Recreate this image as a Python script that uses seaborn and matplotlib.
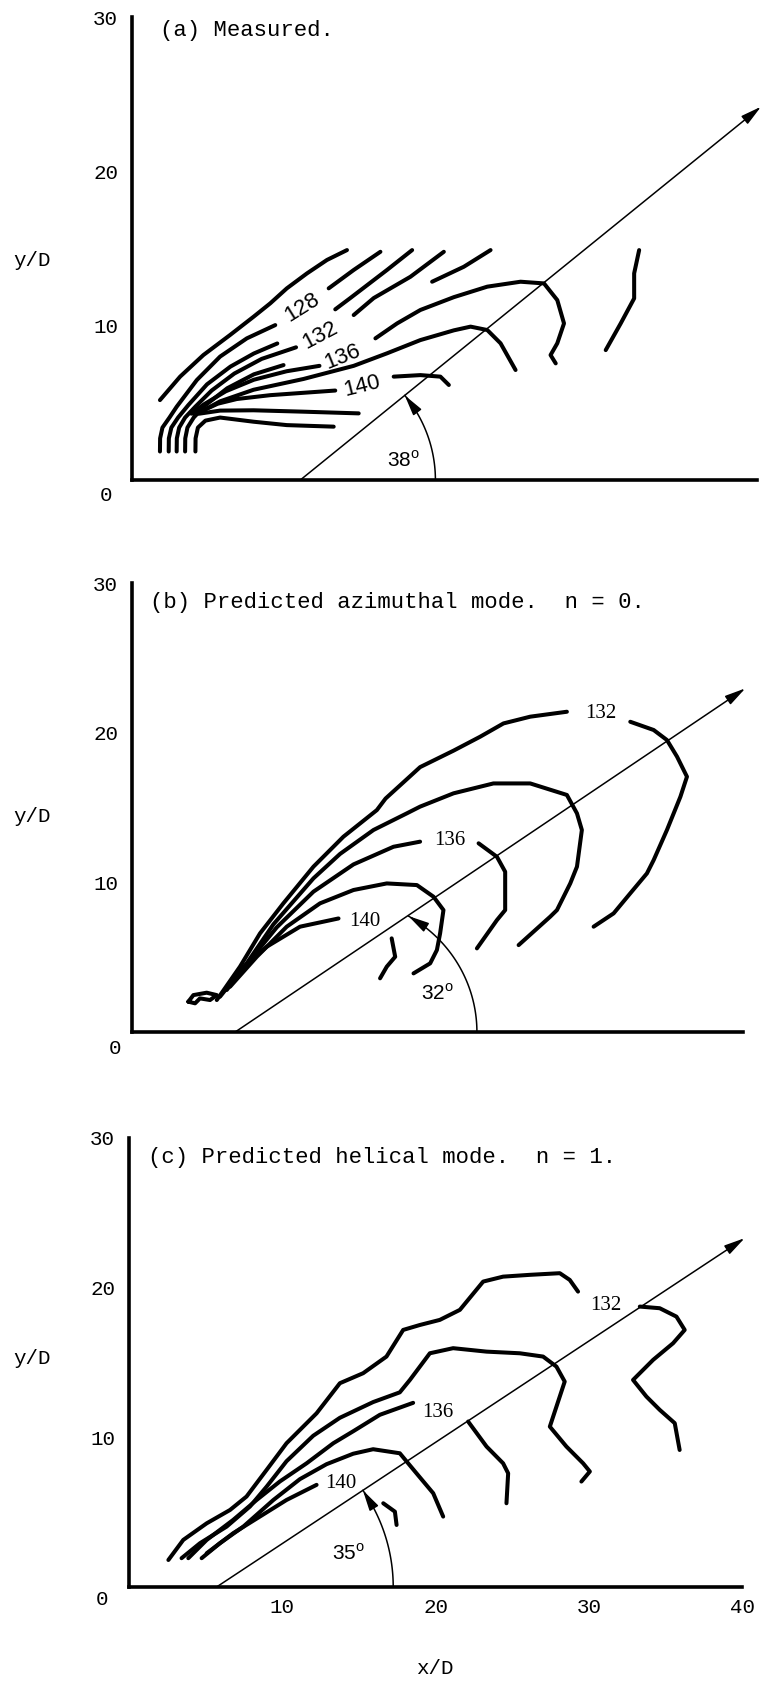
import numpy as np
import pandas as pd
import matplotlib
matplotlib.use("Agg")
import matplotlib.pyplot as plt
import seaborn as sns

# ---------------------------------------------------------------------------
# Axis ticks / labels
# ---------------------------------------------------------------------------
X_TICKS = [10, 20, 30, 40]
Y_TICKS = [10, 20, 30]
X_TICK_LABELS = ["10", "20", "30", "40"]
Y_TICK_LABELS = ["10", "20", "30"]
PANEL_TITLES = ["(a) Measured.",
                "(b) Predicted azimuthal mode.  n = 0.",
                "(c) Predicted helical mode.  n = 1."]

# ---------------------------------------------------------------------------
# Panel (a): measured SPL contours (dB), x/D - y/D
# ---------------------------------------------------------------------------
A_124 = [(1.79, 5.18), (3.08, 6.70), (4.57, 8.10), (6.28, 9.40), (7.78, 10.58),
         (8.85, 11.45), (9.91, 12.42), (11.20, 13.39), (12.48, 14.26), (13.76, 14.90)]
A_128 = [(1.79, 1.85), (1.80, 2.70), (1.95, 3.40), (2.40, 4.05), (2.86, 4.75),
         (4.15, 6.48), (5.64, 8.00), (7.35, 9.18), (9.17, 10.04)]
A_128_POST = [(12.59, 12.42), (14.19, 13.61), (15.90, 14.79)]
A_130 = [(2.35, 1.85), (2.36, 2.70), (2.52, 3.40), (2.95, 4.05), (3.60, 4.85),
         (4.80, 6.20), (6.30, 7.35), (7.80, 8.20), (9.30, 8.85)]
A_130_POST = [(13.01, 11.06), (13.97, 11.79), (16.32, 13.61), (17.93, 14.90)]
A_132 = [(2.86, 1.85), (2.87, 2.70), (3.02, 3.40), (3.40, 4.05), (4.05, 4.75),
         (5.10, 5.80), (6.55, 6.90), (8.30, 7.85), (10.50, 8.60)]
A_132_POST = [(14.19, 10.69), (15.47, 11.79), (17.82, 13.17), (19.96, 14.79)]
A_134 = [(3.40, 1.85), (3.41, 2.70), (3.55, 3.40), (3.95, 4.05), (4.70, 4.85),
         (6.10, 5.95), (7.80, 6.85), (9.70, 7.45)]
A_134_POST = [(19.21, 12.85), (21.24, 13.82), (22.95, 14.90)]
A_136 = [(3.80, 4.30), (4.60, 4.90), (6.00, 5.75), (7.80, 6.50), (9.90, 7.05), (12.00, 7.40)]
A_136_POST = [(15.58, 9.18), (16.97, 10.15), (18.46, 11.02), (20.60, 11.85), (22.74, 12.53),
              (24.87, 12.85), (26.37, 12.74), (27.22, 11.66), (27.65, 10.15), (27.22, 8.86),
              (26.79, 8.10), (27.12, 7.56)]
A_138 = [(4.00, 4.20), (5.64, 5.10), (7.78, 5.85), (10.98, 6.55), (14.19, 7.40),
         (16.32, 8.21), (18.46, 9.07), (20.60, 9.70), (21.67, 9.94), (22.74, 9.72),
         (23.59, 8.86), (24.55, 7.13)]
A_140 = [(4.20, 4.35), (5.50, 4.95), (6.71, 5.25), (8.85, 5.50), (13.01, 5.80)]
A_140_POST = [(16.75, 6.70), (18.46, 6.80), (19.74, 6.70), (20.28, 6.16)]
A_142 = [(4.30, 4.30), (5.64, 4.50), (7.78, 4.52), (10.98, 4.43), (14.51, 4.32)]
A_144 = [(4.06, 1.85), (4.07, 2.70), (4.22, 3.40), (4.70, 3.85), (5.64, 4.05),
         (7.78, 3.78), (9.91, 3.56), (12.91, 3.46)]
A_FAR = [(32.46, 14.90), (32.14, 13.39), (32.14, 11.77), (31.28, 10.15), (30.32, 8.42)]

A_LEVELS = ["128", "132", "136", "140"]
A_LEVEL_XY = [(10.88, 11.19), (12.05, 9.40), (13.50, 7.99), (14.72, 6.11)]
A_LEVEL_ROT = [32, 28, 22, 14]

# ---------------------------------------------------------------------------
# Panel (b): azimuthal mode n = 0
# ---------------------------------------------------------------------------
B_132 = [(5.55, 2.14), (7.07, 4.37), (8.38, 6.59), (9.91, 8.60), (11.88, 11.05),
         (13.84, 13.05), (16.03, 14.83), (16.60, 15.60), (18.00, 16.90), (18.86, 17.70),
         (21.05, 18.80), (22.79, 19.73), (24.32, 20.62), (26.07, 21.07), (28.47, 21.40)]
B_132_POST = [(32.62, 20.73), (34.15, 20.18), (35.02, 19.51), (35.68, 18.40), (36.33, 17.06),
              (35.90, 15.72), (35.02, 13.50), (34.15, 11.49), (33.71, 10.60), (32.62, 9.27),
              (31.53, 7.93), (30.22, 7.04)]
B_134 = [(5.76, 2.36), (7.51, 4.59), (9.26, 7.20), (11.88, 10.27), (13.62, 11.90),
         (15.81, 13.50), (17.99, 14.61), (18.86, 15.06), (21.05, 15.95), (22.79, 16.39),
         (23.66, 16.61), (26.07, 16.61), (28.47, 15.84), (29.13, 14.61), (29.45, 13.50),
         (29.13, 11.05), (28.69, 9.93), (27.82, 8.15), (27.38, 7.71), (25.31, 5.81)]
B_136 = [(6.20, 2.81), (7.73, 4.81), (9.48, 7.00), (11.88, 9.38), (14.50, 11.20),
         (17.12, 12.38), (18.86, 12.72)]
B_136_POST = [(22.69, 12.61), (23.89, 11.71), (24.43, 10.71), (24.43, 8.15), (23.89, 7.48),
              (22.58, 5.59)]
B_138 = [(6.42, 3.03), (8.17, 5.03), (10.13, 7.04), (12.31, 8.60), (14.50, 9.49),
         (16.68, 9.93), (18.65, 9.82), (19.74, 9.04), (20.39, 8.15), (20.17, 6.59),
         (19.96, 5.48), (19.52, 4.59), (18.43, 3.92)]
B_140 = [(7.07, 4.14), (8.82, 5.70), (11.00, 7.04), (13.52, 7.59)]
B_HOOK = [(17.00, 6.26), (17.23, 5.03), (16.68, 4.37), (16.24, 3.59)]
B_LOOP = [(3.69, 2.03), (4.02, 2.47), (4.89, 2.63), (5.55, 2.47), (5.11, 2.14),
          (4.45, 2.25), (4.13, 1.92), (3.69, 2.03)]

B_LEVELS = ["132", "136", "140"]
B_LEVEL_XY = [(30.66, 21.29), (20.83, 12.78), (15.26, 7.37)]

# ---------------------------------------------------------------------------
# Panel (c): helical mode n = 1
# ---------------------------------------------------------------------------
C_132 = [(2.57, 1.80), (3.54, 3.14), (5.07, 4.25), (6.59, 5.14), (7.67, 6.04),
         (8.98, 7.82), (10.28, 9.60), (12.24, 11.60), (13.76, 13.61), (15.28, 14.28),
         (16.80, 15.39), (17.89, 17.17), (18.98, 17.50), (20.28, 17.84), (21.59, 18.51),
         (23.11, 20.40), (24.41, 20.73), (26.15, 20.85), (28.11, 20.96), (28.76, 20.51),
         (29.30, 19.73)]
C_132_POST = [(33.33, 18.73), (34.63, 18.62), (35.72, 18.06), (36.26, 17.17), (35.50, 16.28),
              (34.20, 15.17), (32.89, 13.83), (33.76, 12.72), (34.63, 11.83), (35.61, 10.94),
              (35.93, 9.15)]
C_134 = [(3.43, 1.92), (4.63, 2.92), (6.37, 4.03), (7.89, 5.37), (8.98, 6.70),
         (10.28, 8.40), (12.02, 10.10), (13.76, 11.30), (15.93, 12.35), (17.67, 13.00),
         (18.33, 13.83), (19.63, 15.61), (21.15, 15.95), (23.33, 15.72), (25.50, 15.61),
         (27.02, 15.39), (27.89, 14.72), (28.43, 13.72), (27.46, 10.71), (28.54, 9.38),
         (29.63, 8.26), (30.07, 7.71), (29.52, 7.04)]
C_136 = [(3.87, 1.92), (5.07, 3.14), (6.80, 4.48), (8.33, 5.81), (9.85, 7.05),
         (11.59, 8.26), (13.33, 9.60), (14.63, 10.40), (16.37, 11.50), (18.54, 12.30)]
C_136_POST = [(22.13, 11.05), (23.33, 9.38), (24.41, 8.26), (24.74, 7.59), (24.63, 5.59)]
C_138 = [(4.74, 1.92), (5.93, 2.92), (7.46, 4.03), (9.41, 5.80), (11.15, 7.20),
         (12.89, 8.20), (14.63, 8.90), (15.93, 9.20), (17.67, 8.93), (18.76, 7.59),
         (19.85, 6.26), (20.50, 4.70)]
C_140 = [(5.07, 2.25), (6.80, 3.59), (8.54, 4.70), (10.28, 5.81), (12.24, 6.82)]
C_HOOK = [(16.59, 5.59), (17.35, 5.03), (17.46, 4.14)]

C_LEVELS = ["132", "136", "140"]
C_LEVEL_XY = [(31.10, 18.78), (20.17, 11.67), (13.80, 6.88)]

# ---------------------------------------------------------------------------
# Jet-axis reference rays and angles
# ---------------------------------------------------------------------------
RAY_START = [(10.77, 0.0), (6.75, 0.0), (5.72, 0.0)]
RAY_END = [(40.26, 24.19), (40.15, 22.96), (40.17, 23.30)]
ARC_CENTER_X = [10.77, 13.64, 5.72]
ARC_RADIUS = [8.65, 8.94, 11.52]
ARC_END_DEG = [39.4, 60.1, 34.1]
ANGLE_TEXT = ["38", "32", "35"]
ANGLE_TEXT_XY = [(17.4, 1.3), (20.0, 2.6), (14.3, 2.25)]

# ---------------------------------------------------------------------------
sns.set_theme(style="white")
plt.rcParams["font.family"] = ["Liberation Mono", "DejaVu Sans"]
plt.rcParams["mathtext.fontset"] = "custom"
plt.rcParams["mathtext.rm"] = "Liberation Sans"
for key in ["text.color", "axes.edgecolor", "axes.labelcolor", "xtick.color", "ytick.color"]:
    plt.rcParams[key] = "black"

fig = plt.figure(figsize=(7.66, 16.85), dpi=100)
ax_a = fig.add_axes([0.1723, 0.7151, 0.8159, 0.2748])
ax_b = fig.add_axes([0.1723, 0.3875, 0.7977, 0.2665])
ax_c = fig.add_axes([0.1684, 0.0582, 0.8003, 0.2665])
axes = [ax_a, ax_b, ax_c]

CURVE_LW = 2.9
ARROW = dict(arrowstyle="-|>,head_length=0.9,head_width=0.22", color="black",
             lw=1.1, shrinkA=0, shrinkB=0, mutation_scale=14)


def draw_curve(ax, pts, lw=CURVE_LW):
    df = pd.DataFrame(pts, columns=["x", "y"])
    sns.lineplot(data=df, x="x", y="y", sort=False, estimator=None, color="black",
                 lw=lw, ax=ax, solid_capstyle="round", solid_joinstyle="round")


panel_curves = [
    [A_124, A_128, A_128_POST, A_130, A_130_POST, A_132, A_132_POST, A_134, A_134_POST,
     A_136, A_136_POST, A_138, A_140, A_140_POST, A_142, A_144, A_FAR],
    [B_132, B_132_POST, B_134, B_136, B_136_POST, B_138, B_140, B_HOOK, B_LOOP],
    [C_132, C_132_POST, C_134, C_136, C_136_POST, C_138, C_140, C_HOOK],
]
title_xy = [(1.79, 29.1), (1.18, 28.7), (1.24, 28.7)]
zero_xy = [(-1.67, -0.97), (-1.10, -1.07), (-1.76, -0.87)]

for i, ax in enumerate(axes):
    for pts in panel_curves[i]:
        draw_curve(ax, pts)

    # reference ray with arrow
    ax.annotate("", xy=RAY_END[i], xytext=RAY_START[i], arrowprops=ARROW,
                annotation_clip=False)
    # angle arc with arrow at the ray
    th = np.radians(np.linspace(0, ARC_END_DEG[i], 80))
    ax.plot(ARC_CENTER_X[i] + ARC_RADIUS[i] * np.cos(th), ARC_RADIUS[i] * np.sin(th),
            color="black", lw=1.1)
    t_end = np.radians(ARC_END_DEG[i])
    t_pre = np.radians(ARC_END_DEG[i] - 6)
    ax.annotate("", xy=(ARC_CENTER_X[i] + ARC_RADIUS[i] * np.cos(t_end), ARC_RADIUS[i] * np.sin(t_end)),
                xytext=(ARC_CENTER_X[i] + ARC_RADIUS[i] * np.cos(t_pre), ARC_RADIUS[i] * np.sin(t_pre)),
                arrowprops=ARROW, annotation_clip=False)
    ax.text(*ANGLE_TEXT_XY[i], ANGLE_TEXT[i] + r"$^{\mathrm{o}}$", ha="center", va="center",
            fontsize=15, family=["Liberation Sans", "DejaVu Sans"])

    ax.text(*title_xy[i], PANEL_TITLES[i], ha="left", va="center", fontsize=16)
    ax.text(*zero_xy[i], "0", ha="center", va="center", fontsize=15, clip_on=False)

    ax.set_xlim(0, 40)
    ax.set_ylim(0, 30)
    ax.set_xlabel("")
    ax.set_ylabel("")
    sns.despine(ax=ax)
    for side in ["left", "bottom"]:
        ax.spines[side].set_linewidth(2.6)
        ax.spines[side].set_color("black")
    ax.set_xticks(X_TICKS)
    ax.set_yticks(Y_TICKS)
    ax.set_yticklabels(Y_TICK_LABELS, fontsize=15)
    if i == 2:
        ax.set_xticklabels(X_TICK_LABELS, fontsize=15)
    else:
        ax.set_xticklabels([])
    ax.tick_params(axis="both", direction="in", length=13.5, width=2.6)
    ax.tick_params(axis="y", pad=10)
    ax.tick_params(axis="x", pad=8)

# contour level labels
for lab, (x, y), rot in zip(A_LEVELS, A_LEVEL_XY, A_LEVEL_ROT):
    ax_a.text(x, y, lab, ha="center", va="center", rotation=rot, rotation_mode="anchor",
              fontsize=16, family=["Liberation Sans", "DejaVu Sans"])
for lab, (x, y) in zip(B_LEVELS, B_LEVEL_XY):
    ax_b.text(x, y, lab, ha="center", va="center", fontsize=15,
              family=["Liberation Serif", "DejaVu Serif"])
for lab, (x, y) in zip(C_LEVELS, C_LEVEL_XY):
    ax_c.text(x, y, lab, ha="center", va="center", fontsize=15,
              family=["Liberation Serif", "DejaVu Serif"])

# axis titles
for ypix in [260, 816, 1359]:
    fig.text(32 / 766, 1 - ypix / 1685, "y/D", ha="center", va="center", fontsize=15)
fig.text(435 / 766, 1 - 1668 / 1685, "x/D", ha="center", va="center", fontsize=15)

fig.savefig("out.png", dpi=100)
